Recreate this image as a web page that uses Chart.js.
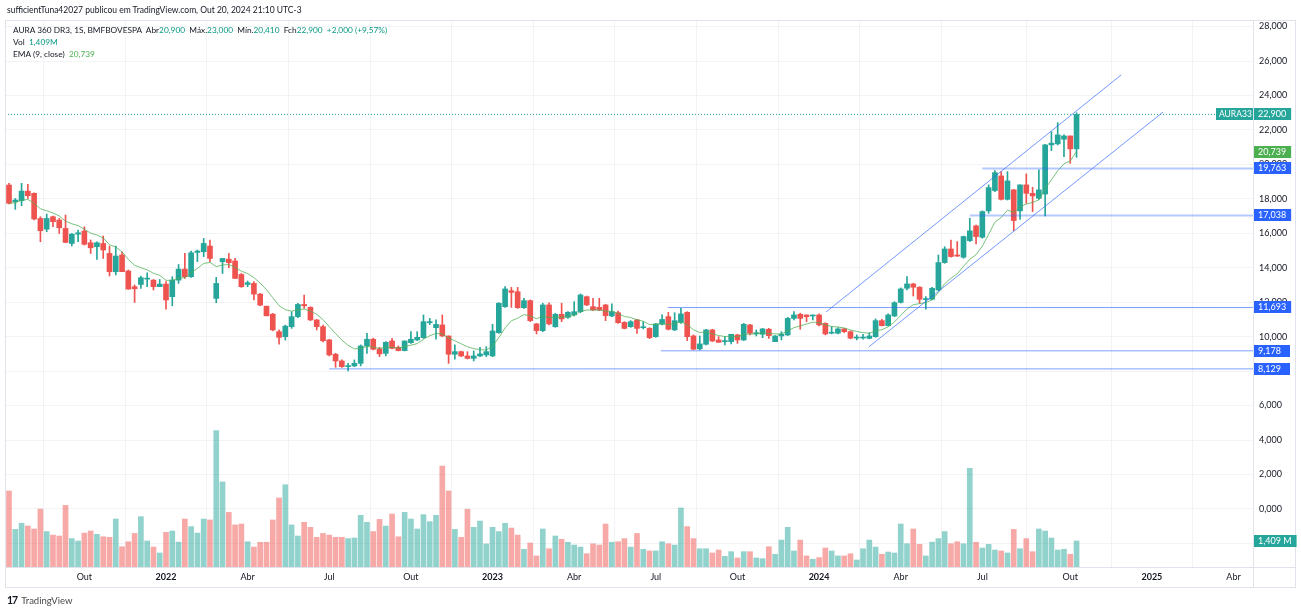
<!DOCTYPE html>
<html>
<head>
<meta charset="utf-8">
<script src="https://cdn.jsdelivr.net/npm/chart.js@4.4.1/dist/chart.umd.min.js"></script>
<style>
  body { margin: 0; background: #fff; font-family: Lato, "Noto Sans", sans-serif; color: #131722; }
  #wrap { position: relative; width: 1301px; height: 612px; overflow: hidden; }
  #chart { position: absolute; left: 0; top: 0; }
  .hdr { position: absolute; left: 7px; top: 5px; font-size: 8.5px; white-space: nowrap; }
  .legend { position: absolute; left: 13px; top: 24px; font-size: 8.3px; line-height: 12px; white-space: nowrap; }
  .up { color: #089981; }
  .ema { color: #4caf50; }
  .logo { position: absolute; left: 7px; top: 594px; font-size: 9.5px; color: #4a4a4a; white-space: nowrap; }
  .logo b { font-size: 10.5px; color: #131722; letter-spacing: -1px; margin-right: 4px; }
</style>
</head>
<body>
<div id="wrap">
  <canvas id="chart" width="1301" height="612"></canvas>
  <div class="hdr">sufficientTuna42027 publicou em TradingView.com, Out 20, 2024 21:10 UTC-3</div>
  <div class="legend">
    <div>AURA 360 DR3, 1S, BMFBOVESPA&nbsp; Abr<span class="up">20,900</span>&nbsp; Máx.<span class="up">23,000</span>&nbsp; Mín.<span class="up">20,410</span>&nbsp; Fch<span class="up">22,900</span>&nbsp; <span class="up">+2,000 (+9,57%)</span></div>
    <div>Vol&nbsp; <span class="up">1,409M</span></div>
    <div>EMA (9, close)&nbsp; <span class="ema">20,739</span></div>
  </div>
  <div class="logo"><b>17</b>TradingView</div>
</div>
<script>
// weekly candles, Jul 2021 -> Oct 2024 (values in R$)
const opens = [18.80,17.83,17.89,18.45,18.32,16.86,16.24,16.96,16.77,16.28,
  15.41,15.95,16.13,15.45,15.22,15.41,14.83,13.77,14.74,13.81,
  12.90,13.03,13.34,13.28,12.90,13.05,12.32,13.28,13.92,13.48,
  14.89,14.93,15.26,12.22,14.35,14.50,14.39,13.61,13.03,13.09,
  12.47,11.77,11.31,10.29,10.00,10.58,11.16,11.87,11.70,10.97,
  10.58,9.81,8.98,8.59,8.26,8.30,8.45,9.46,9.85,9.29,
  9.03,9.75,9.38,9.19,9.65,9.81,9.94,10.81,10.52,10.68,
  10.04,8.98,9.13,8.88,8.74,8.88,8.94,8.88,10.23,11.74,
  12.67,12.61,11.68,12.09,10.74,10.35,11.84,10.58,11.30,11.12,
  11.26,11.45,12.32,11.74,11.70,11.84,11.20,11.39,10.83,10.58,
  10.97,10.52,10.48,10.00,10.72,11.16,10.39,10.83,11.41,10.04,
  9.29,9.56,10.39,9.81,9.71,9.71,10.10,9.81,10.68,10.16,
  10.14,10.43,9.71,10.04,10.10,11.06,11.30,11.26,11.20,11.26,
  10.77,10.20,10.20,10.45,10.29,9.92,9.92,9.90,10.00,10.93,
  10.64,11.20,11.99,12.81,13.06,12.87,12.15,12.17,12.71,14.30,
  15.09,14.74,14.61,15.57,16.43,15.77,17.30,18.48,19.33,17.97,
  18.52,17.30,18.81,18.32,18.03,18.28,21.13,21.19,21.46,21.65,
  20.90];
const highs = [18.90,18.02,18.90,18.84,18.35,16.96,17.12,17.00,16.86,17.06,
  15.99,16.19,16.38,15.61,15.51,15.84,15.26,15.26,14.93,13.87,
  13.00,13.52,13.71,13.32,13.32,13.19,13.48,14.19,14.83,14.97,
  15.03,15.70,15.61,13.44,14.54,14.83,14.54,13.67,13.23,13.19,
  12.51,11.77,11.35,10.39,10.67,11.45,11.93,12.41,11.74,11.00,
  10.67,9.85,9.03,8.65,8.45,8.65,9.52,10.19,9.91,9.38,
  9.71,9.91,9.46,9.75,10.29,10.29,11.26,11.06,10.97,11.26,
  10.04,9.52,9.17,9.13,9.17,9.38,9.42,10.72,11.97,12.90,
  12.86,12.86,12.23,12.13,10.77,11.94,11.97,11.35,11.94,11.45,
  12.03,12.48,12.36,12.23,12.23,11.88,11.90,11.49,10.87,10.93,
  11.00,10.87,10.52,10.77,11.26,11.41,11.39,11.65,11.45,10.10,
  10.04,10.43,10.43,10.00,10.00,10.14,10.14,10.77,10.72,10.39,
  10.48,10.48,10.06,10.29,11.12,11.45,11.36,11.26,11.26,11.32,
  10.81,10.58,10.52,10.48,10.33,10.10,10.14,10.23,11.03,11.01,
  11.32,12.03,12.83,13.48,13.10,12.90,12.32,12.87,14.74,15.22,
  15.61,15.52,15.84,16.87,16.48,17.30,18.81,19.64,19.58,19.58,
  18.55,18.81,19.45,18.67,19.68,21.17,21.90,22.42,21.71,21.65,
  23.00];
const lows = [17.70,17.39,17.60,18.02,16.77,15.51,16.09,16.38,15.99,15.45,
  15.26,15.51,15.32,14.83,14.48,14.54,13.52,13.58,13.77,12.76,
  11.99,12.80,12.90,12.71,12.90,11.60,11.79,13.09,13.38,13.44,
  14.35,14.64,14.35,11.97,13.67,14.00,13.38,12.86,12.90,12.13,
  11.79,11.21,10.34,9.57,9.80,10.48,11.10,11.64,10.93,10.39,
  9.70,8.88,8.22,8.22,8.01,8.26,8.30,9.03,9.23,8.84,
  8.88,9.29,9.17,9.17,9.61,9.77,9.90,10.70,9.85,10.00,
  8.45,8.69,8.84,8.70,8.59,8.84,8.84,8.84,10.19,11.70,
  11.70,11.64,11.64,10.87,10.16,10.29,10.68,10.54,10.87,11.06,
  11.20,11.39,11.80,11.51,11.51,10.93,11.16,10.77,10.45,10.54,
  10.19,10.45,9.88,9.96,10.68,10.39,10.35,10.77,9.77,9.23,
  9.23,9.52,9.71,9.67,9.52,9.58,9.61,9.77,10.10,10.04,
  9.94,9.90,9.71,9.81,10.06,10.97,10.43,10.87,10.97,10.62,
  10.10,10.16,10.16,10.23,9.87,9.81,9.85,9.87,9.96,10.62,
  10.62,11.16,11.95,12.71,12.36,11.94,11.59,12.13,12.67,14.26,
  14.61,14.65,14.55,15.52,15.38,15.71,17.16,18.42,17.93,17.93,
  16.15,16.81,17.74,17.26,17.97,17.01,20.80,21.13,20.45,20.06,
  20.41];
const closes = [17.74,17.93,18.45,18.18,16.83,16.15,16.86,16.67,16.32,15.47,
  15.95,16.03,15.36,15.16,15.45,15.03,13.77,14.68,13.77,12.76,
  12.78,13.42,13.38,12.90,13.05,12.13,13.28,13.92,13.48,14.87,
  14.97,15.41,14.54,13.09,14.54,14.29,13.38,12.90,13.13,12.47,
  11.83,11.21,10.39,9.96,10.61,11.16,11.87,11.79,10.97,10.58,
  9.76,8.94,8.59,8.26,8.30,8.45,9.46,9.85,9.27,9.00,
  9.67,9.32,9.19,9.75,9.85,9.96,10.87,10.87,10.71,10.04,
  8.98,9.13,8.88,8.74,8.88,9.00,9.13,10.33,11.94,12.77,
  12.57,11.68,12.09,10.93,10.35,11.84,10.74,11.30,11.03,11.41,
  11.45,12.42,11.84,11.55,11.55,11.22,11.45,10.81,10.48,10.87,
  10.48,10.54,9.94,10.74,11.00,10.43,10.93,11.32,10.00,9.27,
  9.58,10.39,9.75,9.67,9.77,10.14,9.81,10.72,10.20,10.23,
  10.45,10.06,10.04,10.14,11.06,11.26,11.06,11.16,11.26,10.68,
  10.16,10.23,10.45,10.29,9.91,9.96,9.96,10.04,10.93,10.64,
  11.26,11.97,12.77,13.06,12.87,12.17,12.19,12.81,14.30,15.09,
  14.65,14.68,15.81,16.14,15.81,17.26,18.65,19.52,17.97,19.04,
  16.74,18.81,18.32,18.17,18.52,21.13,21.23,21.71,21.65,20.90,
  22.90];
// volume in millions
const volumes = [4.12,2.04,2.37,2.22,2.06,3.14,1.92,1.73,1.68,3.34,
  1.54,1.41,1.84,1.95,1.77,1.64,1.61,2.60,1.10,1.37,
  1.82,2.73,1.41,1.08,0.76,1.88,1.95,1.35,2.60,2.19,
  1.84,2.60,2.55,7.39,4.61,2.96,2.28,2.33,1.37,1.08,
  1.34,1.34,2.55,3.74,4.46,2.28,1.68,2.42,2.15,1.61,
  1.82,1.73,1.61,1.61,1.54,1.57,2.80,2.42,1.92,2.58,
  2.22,2.87,1.64,2.96,2.60,2.06,2.84,2.46,2.80,5.47,
  4.12,2.04,1.61,3.13,2.15,2.49,1.25,2.15,1.92,2.37,
  2.11,1.73,0.96,1.30,0.60,2.06,0.99,1.68,1.50,1.34,
  1.19,1.08,0.72,1.26,1.19,2.33,1.34,1.37,1.54,1.08,
  1.82,0.96,0.87,0.87,1.37,1.26,1.19,3.20,2.19,1.54,
  0.99,0.99,0.76,0.92,0.58,0.83,0.49,0.83,0.83,0.49,
  0.45,1.10,0.69,1.46,2.15,0.87,1.46,0.60,0.42,0.51,
  1.03,0.87,0.60,0.60,0.72,0.38,0.99,1.46,1.08,0.69,
  0.81,0.76,2.33,1.26,2.06,1.23,0.60,1.35,1.54,1.92,
  1.26,1.37,1.26,5.35,1.34,1.03,1.23,0.92,0.87,0.76,
  2.04,0.99,1.54,0.83,2.06,1.95,1.57,0.92,0.96,0.69,
  1.41];

// time axis: bar index of first weekly bar of each labelled month
const tickWeeks = [12, 25, 38, 51, 64, 77, 90, 103, 116, 129, 142, 155, 169, 182, 195];
const tickLabels = ["Out", "2022", "Abr", "Jul", "Out", "2023", "Abr", "Jul", "Out", "2024", "Abr", "Jul", "Out", "2025", "Abr"];
const priceTicks = [-2, 0, 2, 4, 6, 8, 10, 12, 14, 16, 18, 20, 22, 24, 26, 28];

// drawings on the chart (bar index, price)
const levelPrices = [19.763, 17.038, 11.693, 9.178, 8.129];
const levelStarts = [155, 153, 104.9, 103.8, 51];
const channelUpper = [[130.1, 11.43], [177.1, 25.19]];
const channelLower = [[136.9, 9.40], [183.8, 23.04]];
const lastEma = 20.739;
const lastVolume = 1.409;

const xMin = -0.64, xMax = 198.1;
const yMin = -3.37, yMax = 28.38;
const volMax = 29.65;

const UP = "#26a69a", DOWN = "#ef5350";
const FONT = "Lato, 'Noto Sans', sans-serif";

const isUp = closes.map((c, i) => c >= opens[i]);
const candleColors = isUp.map(u => (u ? UP : DOWN));
const volColors = isUp.map(u => (u ? "rgba(38,166,154,0.5)" : "rgba(239,83,80,0.5)"));

// EMA(9) of the closes
const ema = [];
closes.forEach((c, i) => {
  ema.push(i === 0 ? c : ema[i - 1] + (c - ema[i - 1]) * 2 / 10);
});

function fmt(v) {
  return v.toFixed(3).replace(".", ",");
}

function labelFor(v) {
  const k = tickWeeks.indexOf(v);
  return k < 0 ? "" : tickLabels[k];
}

function levelLine(price, start, color, width) {
  return {
    type: "line",
    data: [{ x: start, y: price }, { x: xMax, y: price }],
    borderColor: color,
    borderWidth: width,
    pointRadius: 0,
    order: 1
  };
}

function segment(pts, color) {
  return {
    type: "line",
    data: pts.map(p => ({ x: p[0], y: p[1] })),
    borderColor: color,
    borderWidth: 1,
    pointRadius: 0,
    order: 1
  };
}

const overlay = {
  id: "overlay",
  afterDraw(chart) {
    const { ctx, chartArea: a } = chart;
    const y = chart.scales.y;
    const yv = chart.scales.yv;
    ctx.save();
    ctx.strokeStyle = "#e0e3eb";
    ctx.lineWidth = 1;
    ctx.strokeRect(5.5, 20.5, 1290, 567);
    ctx.beginPath();
    ctx.moveTo(a.right + 0.5, a.top);
    ctx.lineTo(a.right + 0.5, 587);
    ctx.moveTo(a.left, a.bottom + 0.5);
    ctx.lineTo(1296, a.bottom + 0.5);
    ctx.stroke();

    const tags = [
      { py: y.getPixelForValue(closes[closes.length - 1]), text: fmt(closes[closes.length - 1]), bg: UP },
      { py: y.getPixelForValue(lastEma), text: fmt(lastEma), bg: "#4caf50" },
      { py: yv.getPixelForValue(lastVolume), text: fmt(lastVolume) + " M", bg: UP }
    ];
    levelPrices.forEach(p => tags.push({ py: y.getPixelForValue(p), text: fmt(p), bg: "#2962ff" }));

    ctx.font = "9px " + FONT;
    ctx.textBaseline = "middle";
    tags.forEach(t => {
      const py = Math.round(t.py);
      const w = Math.max(36, ctx.measureText(t.text).width + 9);
      ctx.fillStyle = t.bg;
      ctx.fillRect(a.right + 1, py - 6, w, 12);
      ctx.fillStyle = "#fff";
      ctx.fillText(t.text, a.right + 5, py + 0.5);
    });
    // symbol tag on the last-price line
    const py = Math.round(tags[0].py);
    ctx.font = "8.5px " + FONT;
    ctx.fillStyle = UP;
    ctx.fillRect(a.right - 37, py - 6, 37, 12);
    ctx.fillStyle = "#fff";
    ctx.fillText("AURA33", a.right - 34, py + 0.5);
    ctx.restore();
  }
};

new Chart(document.getElementById("chart"), {
  type: "bar",
  data: {
    datasets: [
      levelLine(levelPrices[0], levelStarts[0], "rgba(41,98,255,0.35)", 2),
      levelLine(levelPrices[1], levelStarts[1], "rgba(41,98,255,0.35)", 2),
      levelLine(levelPrices[2], levelStarts[2], "rgba(41,98,255,0.6)", 1),
      levelLine(levelPrices[3], levelStarts[3], "rgba(41,98,255,0.6)", 1),
      levelLine(levelPrices[4], levelStarts[4], "rgba(41,98,255,0.6)", 1),
      segment(channelUpper, "rgba(41,98,255,0.65)"),
      segment(channelLower, "rgba(41,98,255,0.65)"),
      {
        type: "line",
        label: "EMA 9",
        data: ema.map((v, i) => ({ x: i, y: v })),
        borderColor: "rgba(76,175,80,0.75)",
        borderWidth: 1,
        pointRadius: 0,
        order: 6
      },
      {
        label: "body",
        data: opens.map((o, i) => ({ x: i, y: [o, closes[i]] })),
        backgroundColor: candleColors,
        barThickness: 5,
        minBarLength: 1,
        grouped: false,
        order: 7
      },
      {
        label: "wick",
        data: lows.map((l, i) => ({ x: i, y: [l, highs[i]] })),
        backgroundColor: candleColors,
        barThickness: 1,
        grouped: false,
        order: 8
      },
      {
        type: "line",
        label: "last",
        data: [{ x: xMin, y: closes[closes.length - 1] }, { x: xMax, y: closes[closes.length - 1] }],
        borderColor: UP,
        borderWidth: 1,
        borderDash: [1, 2],
        pointRadius: 0,
        order: 9
      },
      {
        label: "Vol",
        yAxisID: "yv",
        data: volumes.map((v, i) => ({ x: i, y: v })),
        backgroundColor: volColors,
        barThickness: 5,
        grouped: false,
        order: 10
      }
    ]
  },
  options: {
    responsive: false,
    devicePixelRatio: 1,
    animation: false,
    events: [],
    layout: { padding: { left: 5, top: 20, right: 5, bottom: 25 } },
    plugins: { legend: { display: false }, tooltip: { enabled: false } },
    scales: {
      x: {
        type: "linear",
        min: xMin,
        max: xMax,
        offset: false,
        afterBuildTicks: s => { s.ticks = tickWeeks.map(v => ({ value: v })); },
        afterFit: s => { s.height = 20; },
        grid: { color: "#f2f3f5", drawTicks: false },
        border: { display: false },
        ticks: {
          autoSkip: false,
          maxRotation: 0,
          padding: 5,
          color: "#131722",
          font: ctx => {
            const lab = ctx.tick ? labelFor(ctx.tick.value) : "";
            return { family: FONT, size: 9, weight: /^\d{4}$/.test(lab) ? "bold" : "normal" };
          },
          callback: v => labelFor(v)
        }
      },
      y: {
        position: "right",
        min: yMin,
        max: yMax,
        afterBuildTicks: s => { s.ticks = priceTicks.map(v => ({ value: v })); },
        afterFit: s => { s.width = 43; },
        grid: { color: "#f2f3f5", drawTicks: false },
        border: { display: false },
        ticks: {
          padding: 6,
          color: "#131722",
          font: { family: FONT, size: 9 },
          callback: v => (v < 0 ? "" : fmt(v))
        }
      },
      yv: { display: false, min: 0, max: volMax }
    }
  },
  plugins: [overlay]
});
</script>
</body>
</html>
